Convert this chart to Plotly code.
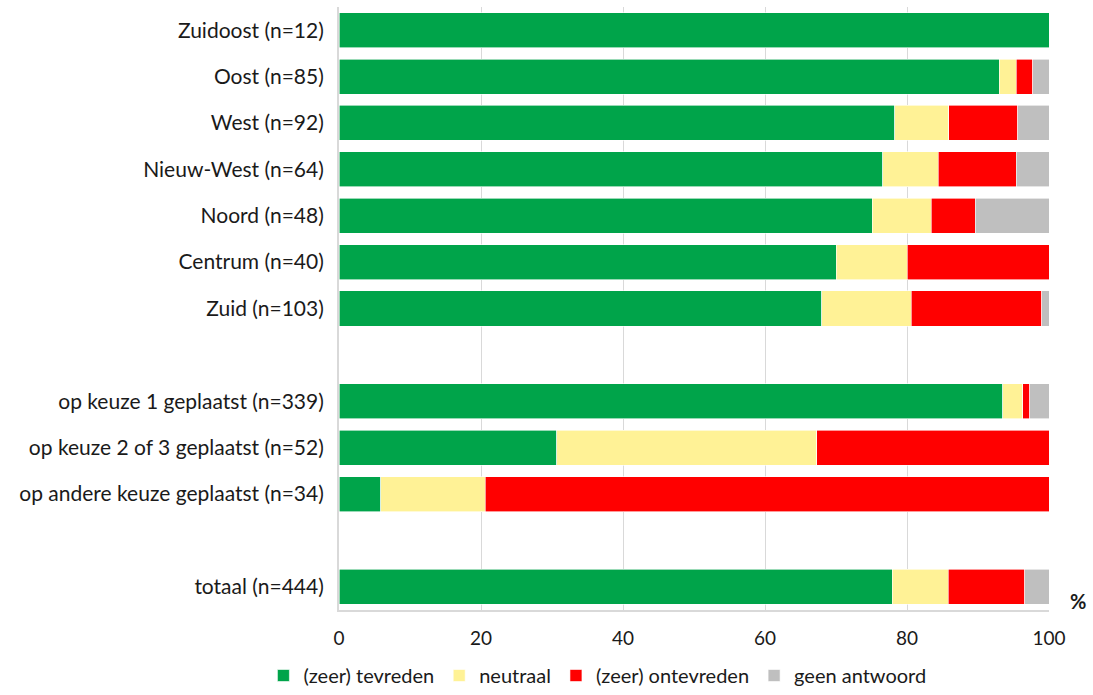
import plotly.graph_objects as go

categories = [
    "Zuidoost (n=12)", "Oost (n=85)", "West (n=92)", "Nieuw-West (n=64)",
    "Noord (n=48)", "Centrum (n=40)", "Zuid (n=103)", " ",
    "op keuze 1 geplaatst (n=339)", "op keuze 2 of 3 geplaatst (n=52)",
    "op andere keuze geplaatst (n=34)", "  ", "totaal (n=444)",
]
tevreden    = [100, 93.0, 78.3, 76.6, 75.1, 70.0, 68.0, None, 93.5, 30.7, 5.9, None, 77.9]
neutraal    = [0, 2.4, 7.6, 7.8, 8.3, 10.0, 12.6, None, 2.8, 36.6, 14.7, None, 7.9]
ontevreden  = [0, 2.3, 9.7, 11.0, 6.2, 20.0, 18.4, None, 1.0, 32.7, 79.4, None, 10.8]
geen        = [0, 2.3, 4.4, 4.6, 10.4, 0, 1.0, None, 2.7, 0, 0, None, 3.4]

series = [
    ("(zeer) tevreden", tevreden, "#00A44A"),
    ("neutraal", neutraal, "#FFF296"),
    ("(zeer) ontevreden", ontevreden, "#FF0000"),
    ("geen antwoord", geen, "#BFBFBF"),
]
x_ticks = [0, 20, 40, 60, 80, 100]

fig = go.Figure()
for name, vals, color in series:
    fig.add_trace(go.Bar(
        y=categories, x=vals, name=name, orientation="h",
        marker=dict(color=color, line=dict(color="white", width=0.6)),
    ))

font = "Lato, 'Open Sans', sans-serif"
fig.update_layout(
    barmode="stack",
    bargap=0.245,
    width=1093, height=695,
    margin=dict(l=339, r=44, t=7, b=85),
    plot_bgcolor="white", paper_bgcolor="white",
    font=dict(family=font, size=21, color="#1a1a1a"),
    showlegend=True,
    legend=dict(orientation="h", xref="container", yref="container",
                x=0.241, xanchor="left", y=0.0, yanchor="bottom",
                font=dict(size=20), traceorder="normal",
                itemwidth=30, tracegroupgap=0),
)
fig.update_xaxes(
    range=[0, 100], tickvals=x_ticks, showgrid=True, gridcolor="#D9D9D9", gridwidth=1,
    showline=True, linecolor="#D9D9D9", linewidth=2, zeroline=False,
    ticklabelstandoff=10, tickfont=dict(size=19), automargin=False,
)
fig.update_yaxes(
    autorange="reversed", showline=True, linecolor="#D9D9D9", linewidth=2,
    ticks="", ticklabelstandoff=9, tickfont=dict(size=21), automargin=False,
)
fig.add_annotation(text="<b>%</b>", xref="paper", yref="paper", x=1.027, y=0.015,
                   xanchor="left", yanchor="middle", showarrow=False,
                   font=dict(size=20, color="#1a1a1a"))

fig.write_html("out.html", config={"displayModeBar": False},
               post_script="document.body.style.margin='0';")
